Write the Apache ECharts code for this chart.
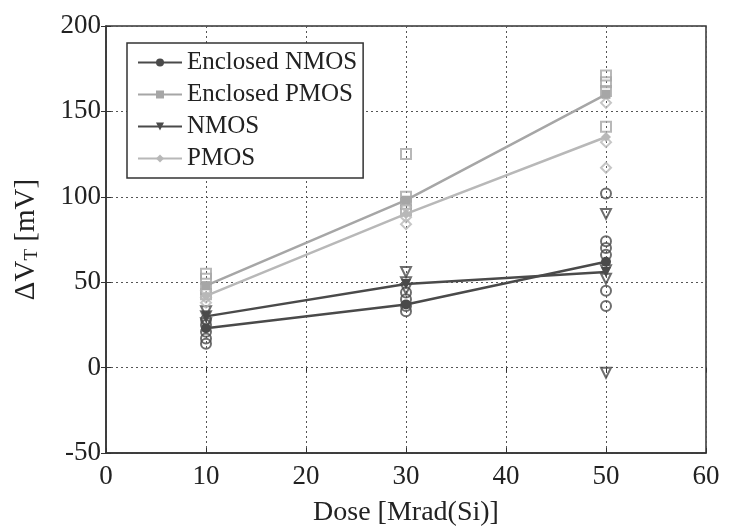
<!DOCTYPE html>
<html><head><meta charset="utf-8">
<script src="https://cdn.jsdelivr.net/npm/echarts@6/dist/echarts.min.js"></script>
<style>html,body{margin:0;padding:0;background:#fff}#c{width:736px;height:532px}</style>
</head><body><div id="c"></div>
<script>
// Doses
const doses = [10, 30, 50];
// Mean values (lines)
const encNmosMean = [23, 37, 62];
const encPmosMean = [48, 98, 160];
const nmosMean = [30, 49, 56];
const pmosMean = [42, 90, 135];
// Individual device values per dose
const encNmosRaw = [[10,14],[10,17],[10,21],[10,25],[10,28],[30,33],[30,36],[30,40],[30,44],[50,102],[50,74],[50,70],[50,66],[50,45],[50,36]];
const encPmosRaw = [[10,55],[10,52],[10,46],[10,43],[30,125],[30,100],[30,96],[30,92],[50,171],[50,167],[50,162],[50,141]];
const nmosRaw = [[10,33],[10,30],[10,26],[30,56],[30,50],[30,46],[50,90],[50,57],[50,52],[50,-3]];
const pmosRaw = [[10,45],[10,41],[10,38],[30,94],[30,88],[30,84],[50,155],[50,132],[50,117]];
const xTicks = {min: 0, max: 60, interval: 10};
const yTicks = {min: -50, max: 200, interval: 50};
const names = ['Enclosed NMOS', 'Enclosed PMOS', 'NMOS', 'PMOS'];

const dark = '#4a4a4a', light = '#a6a6a6', lighter = '#b8b8b8';
const pair = (xs, ys) => xs.map((x, i) => [x, ys[i]]);
const font = 'Liberation Serif';

function lineSeries(name, data, color, symbol, rotate) {
  return {name, type: 'line', data, symbol, symbolSize: symbol === 'rect' ? 9 : 10,
    symbolRotate: rotate || 0, lineStyle: {color, width: 2.5},
    itemStyle: {color}, z: 3, animation: false};
}
function rawSeries(name, data, color, symbol, rotate) {
  return {name, type: 'scatter', data, symbol, symbolSize: 10, symbolRotate: rotate || 0,
    itemStyle: {color: 'rgba(255,255,255,0)', borderColor: color, borderWidth: 2}, z: 2, animation: false};
}

const chart = echarts.init(document.getElementById('c'));
chart.setOption({
  backgroundColor: '#fff',
  grid: {left: 106, right: 30, top: 26, bottom: 70, show: true, borderColor: '#333', borderWidth: 1.5, backgroundColor: 'transparent'},
  legend: {
    data: names, orient: 'vertical', left: 127, top: 43, padding: [7, 6, 7, 10],
    backgroundColor: '#fff', borderColor: '#333', borderWidth: 1.5, itemGap: 7,
    itemWidth: 44, itemHeight: 10,
    textStyle: {fontFamily: font, fontSize: 25, color: '#222'}
  },
  xAxis: [{
    type: 'value', min: xTicks.min, max: xTicks.max, interval: xTicks.interval,
    name: 'Dose [Mrad(Si)]', nameLocation: 'middle', nameGap: 46,
    nameTextStyle: {fontFamily: font, fontSize: 28, color: '#222'},
    axisLine: {show: true, onZero: false, lineStyle: {color: '#333', width: 1.5}},
    axisTick: {show: true, inside: true, length: 5, lineStyle: {color: '#333'}},
    axisLabel: {fontFamily: font, fontSize: 27, color: '#222', margin: 10},
    splitLine: {show: true, lineStyle: {color: '#555', type: [2, 3], width: 1}}
  }, {
    type: 'value', position: 'top', min: xTicks.min, max: xTicks.max, interval: xTicks.interval,
    axisLine: {show: false}, axisLabel: {show: false}, splitLine: {show: false},
    axisTick: {show: true, inside: true, length: 5, lineStyle: {color: '#333'}}
  }],
  yAxis: [{
    type: 'value', min: yTicks.min, max: yTicks.max, interval: yTicks.interval,
    name: '{a|ΔV}{s|T}{a| [mV]}', nameLocation: 'middle', nameGap: 64, nameRotate: 90,
    nameTextStyle: {rich: {
      a: {fontFamily: font, fontSize: 29, color: '#222'},
      s: {fontFamily: font, fontSize: 19, color: '#222', verticalAlign: 'bottom', padding: [12, 0, 0, 0]}
    }},
    axisLine: {show: true, onZero: false, lineStyle: {color: '#333', width: 1.5}},
    axisTick: {show: true, inside: true, length: 5, lineStyle: {color: '#333'}},
    axisLabel: {fontFamily: font, fontSize: 27, color: '#222', margin: 5},
    splitLine: {show: true, lineStyle: {color: '#555', type: [2, 3], width: 1}}
  }, {
    type: 'value', position: 'right', min: yTicks.min, max: yTicks.max, interval: yTicks.interval,
    axisLine: {show: false}, axisLabel: {show: false}, splitLine: {show: false},
    axisTick: {show: true, inside: true, length: 5, lineStyle: {color: '#333'}}
  }],
  series: [
    rawSeries('Enclosed NMOS raw', encNmosRaw, dark, 'circle'),
    rawSeries('Enclosed PMOS raw', encPmosRaw, light, 'rect'),
    rawSeries('NMOS raw', nmosRaw, dark, 'triangle', 180),
    rawSeries('PMOS raw', pmosRaw, lighter, 'diamond'),
    lineSeries(names[0], pair(doses, encNmosMean), dark, 'circle'),
    lineSeries(names[1], pair(doses, encPmosMean), light, 'rect'),
    lineSeries(names[2], pair(doses, nmosMean), dark, 'triangle', 180),
    lineSeries(names[3], pair(doses, pmosMean), lighter, 'diamond')
  ]
});
</script></body></html>
